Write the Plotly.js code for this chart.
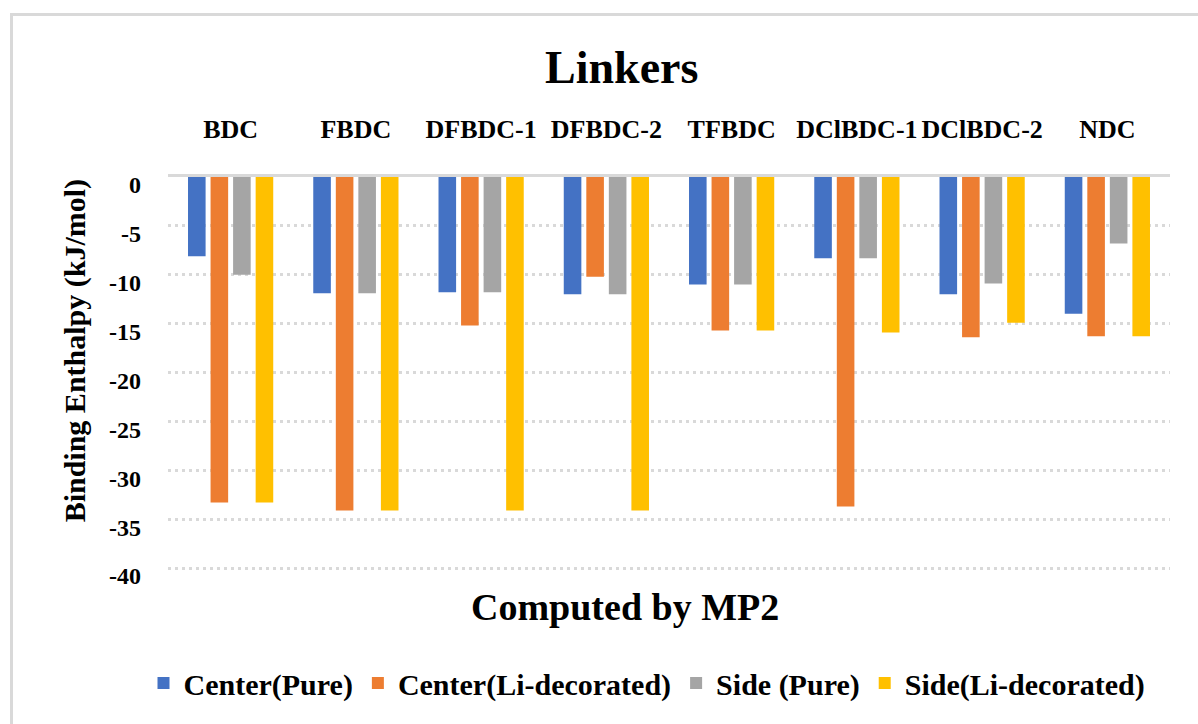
<!DOCTYPE html>
<html>
<head>
<meta charset="utf-8">
<script src="https://cdn.plot.ly/plotly-3.0.1.min.js"></script>
<style>
html,body{margin:0;padding:0;background:#fff;overflow:hidden;}
#wrap{position:relative;width:1198px;height:724px;overflow:hidden;}
#chart{position:absolute;left:0;top:0;width:1198px;height:724px;}
#frame{position:absolute;left:10px;top:13px;width:1400px;height:900px;border:3px solid #d9d9d9;pointer-events:none;}
</style>
</head>
<body>
<div id="wrap"><div id="chart"></div><div id="frame"></div></div>
<script>
const categories = ["BDC","FBDC","DFBDC-1","DFBDC-2","TFBDC","DClBDC-1","DClBDC-2","NDC"];
const centerPure = [-8.1,-11.9,-11.8,-12.0,-11.0,-8.3,-12.0,-14.0];
const centerLi   = [-33.3,-34.1,-15.2,-10.2,-15.7,-33.7,-16.4,-16.3];
const sidePure   = [-10.0,-11.9,-11.8,-12.0,-11.0,-8.3,-10.9,-6.8];
const sideLi     = [-33.3,-34.1,-34.1,-34.1,-15.7,-15.9,-14.9,-16.3];
const seriesNames = ["Center(Pure)","Center(Li-decorated)","Side (Pure)","Side(Li-decorated)"];
const seriesColors = ["#4472C4","#ED7D31","#A5A5A5","#FFC000"];
const yTickVals = [0,-5,-10,-15,-20,-25,-30,-35,-40];
const yTickText = ["0","-5","-10","-15","-20","-25","-30","-35","-40"];

const FONT = "Liberation Serif, Times New Roman, serif";
const allSeries = [centerPure, centerLi, sidePure, sideLi];
const traces = allSeries.map((vals, i) => ({
  type: 'bar',
  name: seriesNames[i],
  x: categories,
  y: vals,
  marker: {color: seriesColors[i]},
  hoverinfo: 'x+y+name'
}));

const layout = {
  width: 1198, height: 724,
  margin: {l: 168, r: 28, t: 177, b: 153, autoexpand: false},
  paper_bgcolor: '#ffffff', plot_bgcolor: '#ffffff',
  barmode: 'group', bargap: 0.28, bargroupgap: 0.22,
  font: {family: FONT, color: '#000'},
  title: {text: 'Linkers', font: {family: FONT, size: 46, weight: 'bold', color: '#000'},
          xref: 'container', x: 0.519, xanchor: 'center', yref: 'container', y: 1 - 67/724, yanchor: 'middle'},
  xaxis: {side: 'top', type: 'category', showline: true, linecolor: '#d9d9d9', linewidth: 3,
          showgrid: false, ticks: '', tickfont: {family: FONT, size: 26, weight: 'bold', color: '#000'},
          ticklabelstandoff: 26, fixedrange: true},
  yaxis: {range: [-40.3, 0], tickvals: yTickVals, ticktext: yTickText, showgrid: true,
          gridcolor: '#d9d9d9', gridwidth: 3, griddash: '3px,4px', zeroline: false, showline: false,
          ticks: '', tickfont: {family: FONT, size: 24, weight: 'bold', color: '#000'},
          ticklabelstandoff: 26, ticklabelshift: 8, fixedrange: true},
  showlegend: true,
  legend: {orientation: 'h', xref: 'container', x: 647/1198, xanchor: 'center',
           yref: 'container', y: 1 - 683/724, yanchor: 'middle',
           font: {family: FONT, size: 30, weight: 'bold', color: '#000'}, traceorder: 'normal',
           itemwidth: 30},
  annotations: [
    {text: 'Computed by MP2', xref: 'paper', yref: 'paper', x: 0.456, y: -0.092,
     xanchor: 'center', yanchor: 'middle', showarrow: false,
     font: {family: FONT, size: 38, weight: 'bold', color: '#000'}},
    {text: 'Binding Enthalpy (kJ/mol)', xref: 'paper', yref: 'paper', x: -0.0928, y: 0.5575,
     xanchor: 'center', yanchor: 'middle', textangle: -90, showarrow: false,
     font: {family: FONT, size: 30, weight: 'bold', color: '#000'}}
  ]
};

Plotly.newPlot('chart', traces, layout, {displayModeBar: false, staticPlot: true});
</script>
</body>
</html>
